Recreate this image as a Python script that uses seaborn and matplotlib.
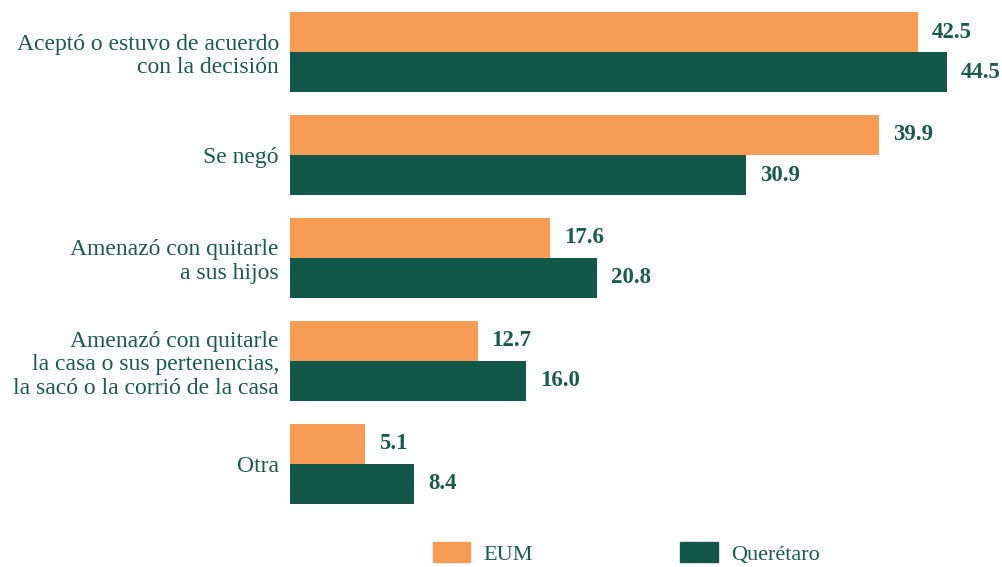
import seaborn as sns
import matplotlib.pyplot as plt
import pandas as pd

# data
categories = [
    "Aceptó o estuvo de acuerdo\ncon la decisión",
    "Se negó",
    "Amenazó con quitarle\na sus hijos",
    "Amenazó con quitarle\nla casa o sus pertenencias,\nla sacó o la corrió de la casa",
    "Otra",
]
eum = [42.5, 39.9, 17.6, 12.7, 5.1]
queretaro = [44.5, 30.9, 20.8, 16.0, 8.4]
series = ["EUM", "Querétaro"]

df = pd.DataFrame({
    "cat": categories * 2,
    "valor": eum + queretaro,
    "serie": [series[0]] * len(eum) + [series[1]] * len(queretaro),
})

ORANGE = "#F79C55"
GREEN = "#13574A"
TEXT = "#1A5C4C"

sns.set_style("white")
plt.rcParams["font.family"] = ["Liberation Serif", "DejaVu Serif"]

fig = plt.figure(figsize=(10.02, 5.67), dpi=100)
ax = fig.add_axes([290 / 1002, 1 - 520 / 567, 1 - 290 / 1002, 520 / 567])

sns.barplot(data=df, y="cat", x="valor", hue="serie", orient="h",
            palette=[ORANGE, GREEN], width=0.777, saturation=1,
            linewidth=0, ax=ax, legend=False)

ax.set_xlim(0, 48.2)
ax.set_ylim(4.544, -0.505)
ax.set_xlabel("")
ax.set_ylabel("")
ax.set_xticks([])
for s in ax.spines.values():
    s.set_visible(False)
ax.tick_params(axis="y", length=0, pad=8)
for lbl in ax.get_yticklabels():
    lbl.set_fontsize(17)
    lbl.set_color(TEXT)
    lbl.set_linespacing(1.15)

for cont in ax.containers:
    ax.bar_label(cont, fmt="%.1f", padding=10, fontsize=16.5,
                 fontweight="bold", color=TEXT)

handles = [plt.Rectangle((0, 0), 1, 1, color=c) for c in (ORANGE, GREEN)]
fig.legend(handles, series, loc="center", bbox_to_anchor=(0.625, 0.024),
           ncol=2, frameon=False, fontsize=16, handlelength=1.7,
           handleheight=1.0, columnspacing=6.6, handletextpad=0.6,
           labelcolor=TEXT, borderpad=0)

fig.savefig("out.png", dpi=100)
